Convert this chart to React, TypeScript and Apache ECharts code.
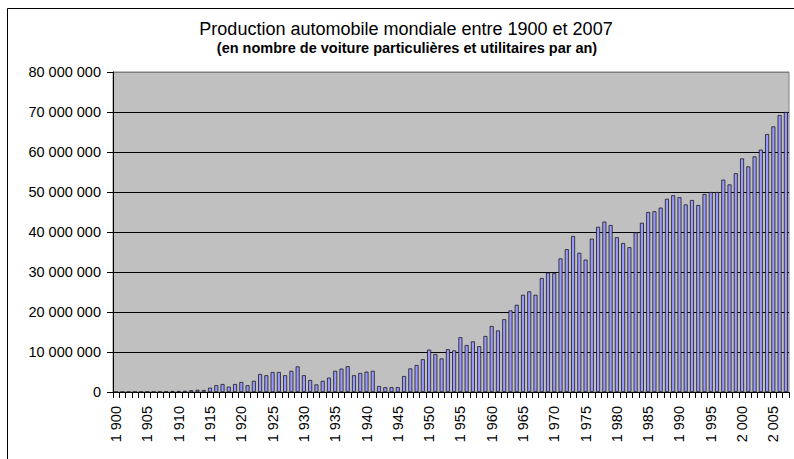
import React, { useEffect, useRef } from "react";
import * as echarts from "echarts";

const years: string[] = [];
for (let y = 1900; y <= 2007; y++) years.push(String(y));

// World motor vehicle production (units per year), 1900 → 2007
const production: number[] = [
  // 1900-1909
  9500, 15000, 20000, 30000, 40000, 50000, 60000, 80000, 100000, 250000,
  // 1910-1919
  260000, 300000, 450000, 550000, 500000, 1100000, 1700000, 2000000, 1350000, 2000000,
  // 1920-1929
  2500000, 1700000, 2800000, 4500000, 4200000, 5000000, 5000000, 4200000, 5300000, 6400000,
  // 1930-1939
  4200000, 3000000, 1900000, 2800000, 3600000, 5300000, 5850000, 6450000, 4200000, 4750000,
  // 1940-1949
  5100000, 5300000, 1500000, 1200000, 1200000, 1200000, 4000000, 5900000, 6750000, 8200000,
  // 1950-1959
  10600000, 9500000, 8400000, 10700000, 10400000, 13700000, 11750000, 12650000, 11450000, 14000000,
  // 1960-1969
  16500000, 15400000, 18200000, 20400000, 21800000, 24300000, 25150000, 24300000, 28500000, 29850000,
  // 1970-1979
  29700000, 33400000, 35700000, 39000000, 34800000, 33100000, 38350000, 41300000, 42600000, 41750000,
  // 1980-1989
  38700000, 37250000, 36200000, 39900000, 42300000, 45000000, 45200000, 46100000, 48300000, 49200000,
  // 1990-1999
  48700000, 46900000, 48000000, 46750000, 49500000, 50000000, 50000000, 53100000, 51900000, 54700000,
  // 2000-2007
  58400000, 56400000, 58900000, 60600000, 64500000, 66400000, 69250000, 70000000,
];

const yTicks: number[] = [0, 10000000, 20000000, 30000000, 40000000, 50000000, 60000000, 70000000, 80000000];

const titleText = "Production automobile mondiale entre 1900 et 2007";
const subtitleText = "(en nombre de voiture particulières et utilitaires par an)";

const FONT = '"Liberation Sans", Arial, Helvetica, sans-serif';

const spaced = (n: number | string): string =>
  String(n).replace(/\B(?=(\d{3})+(?!\d))/g, " ");

export default function App() {
  const ref = useRef<HTMLDivElement>(null);

  useEffect(() => {
    if (!ref.current) return;
    const chart = echarts.init(ref.current, undefined, { renderer: "svg" });
    const gridColors = yTicks.map((_, i) => (i === yTicks.length - 1 ? "#808080" : "#000000"));
    chart.setOption({
      animation: false,
      backgroundColor: "#ffffff",
      textStyle: { fontFamily: FONT },
      graphic: [
        {
          type: "rect",
          silent: true,
          z: -10,
          shape: { x: 7.5, y: 8.5, width: 900, height: 600 },
          style: { fill: "none", stroke: "#000000", lineWidth: 1 },
        },
        {
          type: "text",
          x: 406,
          y: 28.5,
          style: {
            text: titleText,
            fill: "#000000",
            font: `normal 18px ${FONT}`,
            align: "center",
            verticalAlign: "middle",
          },
        },
        {
          type: "text",
          x: 407,
          y: 47.5,
          style: {
            text: subtitleText,
            fill: "#000000",
            font: `bold 14.5px ${FONT}`,
            align: "center",
            verticalAlign: "middle",
          },
        },
      ],
      grid: {
        left: 113,
        right: 5,
        top: 72,
        bottom: 67,
        show: true,
        backgroundColor: "#C0C0C0",
        borderColor: "#808080",
        borderWidth: 1,
        containLabel: false,
      },
      xAxis: {
        type: "category",
        data: years,
        boundaryGap: true,
        axisLine: { show: true, lineStyle: { color: "#000000", width: 1 } },
        axisTick: { show: true, interval: 0, length: 6, lineStyle: { color: "#000000" } },
        axisLabel: {
          interval: (index: number) => index % 5 === 0,
          rotate: 90,
          margin: 14,
          color: "#000000",
          fontSize: 14.5,
          fontFamily: FONT,
          formatter: (v: string) => spaced(v),
        },
        splitLine: { show: false },
      },
      yAxis: {
        type: "value",
        min: 0,
        max: 80000000,
        interval: 10000000,
        axisLine: { show: true, lineStyle: { color: "#000000", width: 1 } },
        axisTick: { show: true, length: 6, lineStyle: { color: "#000000" } },
        axisLabel: {
          color: "#000000",
          fontSize: 14.5,
          fontFamily: FONT,
          margin: 12,
          formatter: (v: number) => spaced(v),
        },
        splitLine: { show: true, lineStyle: { color: gridColors, width: 1 } },
      },
      series: [
        {
          type: "bar",
          data: production,
          barWidth: 4,
          itemStyle: { color: "#9999FF", borderColor: "#1a1a1a", borderWidth: 0.8 },
        },
      ],
    });
    return () => chart.dispose();
  }, []);

  return (
    <div
      ref={ref}
      style={{ position: "fixed", left: 0, top: 0, width: 794, height: 459, background: "#fff" }}
    />
  );
}
